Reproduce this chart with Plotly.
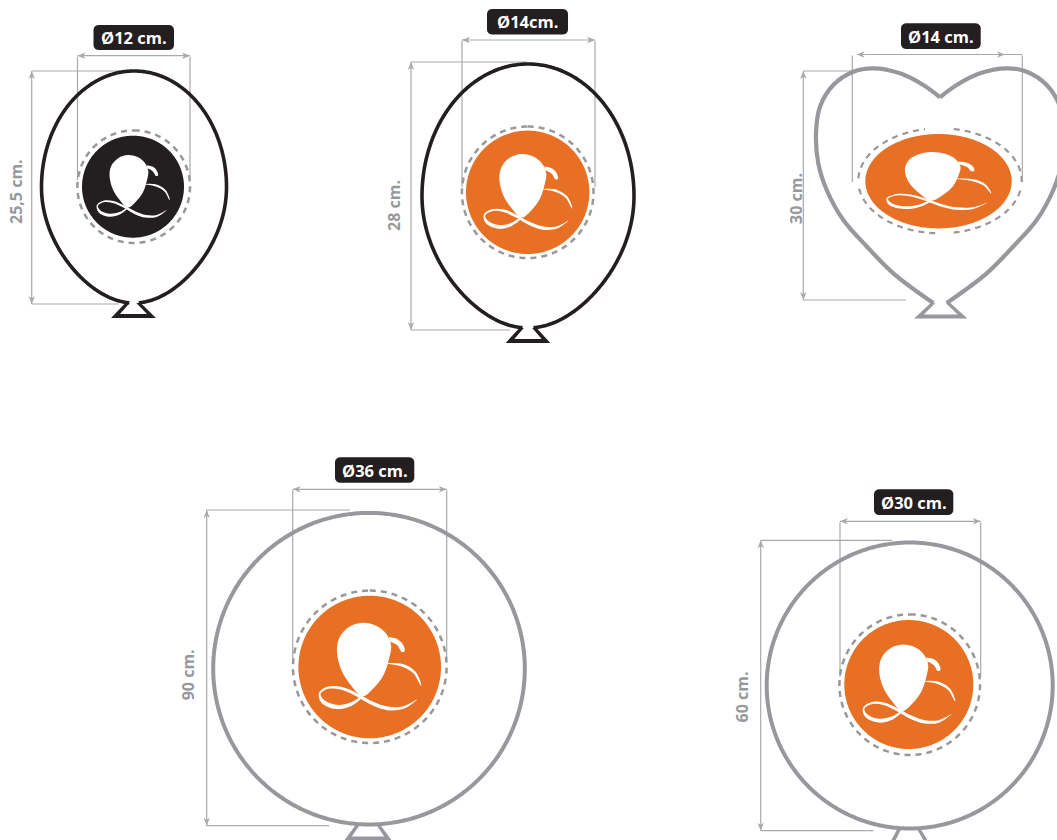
import numpy as np
import plotly.graph_objects as go

# ---- content
diameter_labels = ["Ø12 cm.", "Ø14cm.", "Ø14 cm.", "Ø36 cm.", "Ø30 cm."]
height_labels = ["25,5 cm.", "28 cm.", "30 cm.", "90 cm.", "60 cm."]

# ---- palette
ORANGE = "#e77025"
DARK = "#231f20"
GREY = "#97989b"
DIM = "#a7a9ac"
badge_colors = [DARK, ORANGE, ORANGE, ORANGE, ORANGE]
outline_colors = [DARK, DARK, GREY, GREY, GREY]

# ---- geometry
badge_cx = [133.0, 527.7, 938.5, 369.7, 908.8]
badge_cy = [186.7, 192.3, 181.2, 667.0, 684.5]
badge_rx = [51.0, 61.7, 73.2, 71.3, 64.5]
badge_ry = [51.0, 61.7, 47.2, 71.3, 64.5]
dash_cx = [133.7, 527.7, 940.0, 369.8, 909.7]
dash_cy = [186.7, 192.3, 180.8, 666.8, 684.7]
dash_rx = [56.3, 65.8, 81.7, 76.8, 70.3]
dash_ry = [56.3, 65.8, 52.5, 76.2, 70.3]

pill_x0 = [93.5, 487.0, 901.0, 335.0, 874.0]
pill_x1 = [174.0, 568.0, 980.7, 414.3, 953.3]
pill_y0 = [25.0, 9.0, 23.3, 457.3, 489.3]
pill_y1 = [50.0, 34.5, 49.0, 482.7, 515.0]

width_y = [55.7, 40.0, 54.5, 489.3, 521.3]
width_x0 = [77.5, 462.0, 856.7, 292.7, 840.0]
width_x1 = [190.0, 595.0, 1005.0, 446.7, 980.7]
ext_left = [77.5, 462.0, 852.3, 292.7, 840.0]
ext_right = [190.0, 595.0, 1022.3, 446.7, 980.7]
ext_end = [180.0, 187.0, 182.0, 660.0, 676.7]

height_x = [31.7, 411.0, 803.3, 206.7, 760.7]
height_top = [71.0, 62.0, 71.0, 510.0, 540.3]
height_bot = [304.0, 330.0, 300.0, 825.7, 830.7]
top_end = [133.0, 527.0, 851.7, 350.0, 892.3]
bot_end = [119.0, 510.0, 906.0, 329.0, 873.3]
hlabel_x = [16.0, 394.0, 796.0, 188.3, 741.7]
hlabel_y = [192.0, 206.0, 199.0, 675.0, 696.7]

egg_cx = [134.0, 528.0]
egg_cy = [187.0, 196.0]
egg_rx = [92.5, 106.0]
egg_ry = [116.0, 132.0]
circle_cx = [369.0, 909.7]
circle_cy = [668.7, 685.5]
circle_r = [155.8, 143.0]

knot_top_l = [128.0, 522.0, 933.5, 358.0, 900.0]
knot_top_r = [138.0, 534.0, 947.5, 378.0, 918.0]
knot_bot_l = [115.5, 510.0, 919.0, 348.0, 892.0]
knot_bot_r = [151.5, 546.0, 962.5, 388.0, 927.0]
knot_top_y = [303.0, 328.0, 303.0, 825.0, 828.0]
knot_bot_y = [316.0, 341.0, 316.5, 838.5, 843.0]

# heart: half outline, offsets from the notch axis (px), notch to neck
heart_axis = 940.0
heart_dx = [0, 16.7, 40, 66.7, 86.7, 106.7, 120, 124, 121.7, 113.3, 96.7, 73, 46.7, 6.7]
heart_y = [97.3, 85, 73.3, 68.3, 71.7, 85, 106.7, 133.3, 163.3, 190, 220, 246.7, 273.3, 303]

# logo in units of the badge radius, offsets from the badge centre
logo_bx = [-.10, -.29, -.42, -.46, -.40, -.26, -.10, .06, .20, .28, .30, .23, .09]
logo_by = [-.62, -.56, -.42, -.23, .04, .26, .41, .29, .10, -.15, -.31, -.47, -.58]
hook_x = [.27, .39, .47, .49, .45, .39, .28]
hook_y = [-.42, -.39, -.31, -.22, -.21, -.30, -.36]
ribbon_a_x = [.25, .47, .63, .72]
ribbon_a_y = [-.05, -.02, .08, .26]
ribbon_a_w = [.005, .02, .018, .003]
ribbon_b_x = [.66, .47, .25, .04, -.18, -.39, -.58, -.70, -.66, -.47, -.26, -.10]
ribbon_b_y = [.46, .57, .58, .51, .39, .30, .29, .37, .48, .56, .52, .41]
ribbon_b_w = [.003, .018, .026, .026, .022, .02, .016, .012, .026, .03, .024, .005]


def ring(cx, cy, rx, ry, t0=0.0, t1=2 * np.pi, n=500):
    t = np.linspace(t0, t1, n)
    return cx + rx * np.sin(t), cy - ry * np.cos(t)


def egg(cx, cy, rx, ry):
    t = np.linspace(-np.pi + 0.06, np.pi - 0.06, 500)
    taper = 1 - 0.14 * np.clip(-np.cos(t), 0, 1) ** 2
    return cx + rx * np.sin(t) * taper, cy - ry * np.cos(t)


def ribbon(x, y, w):
    x, y, w = map(np.asarray, (x, y, w))
    dx, dy = np.gradient(x), np.gradient(y)
    ln = np.hypot(dx, dy)
    nx, ny = -dy / ln, dx / ln
    return (np.r_[x + nx * w, (x - nx * w)[::-1]],
            np.r_[y + ny * w, (y - ny * w)[::-1]])


def pill(x0, x1, y0, y1, r=5.0):
    a = np.linspace(0, np.pi / 2, 8)
    xs = np.r_[x1 - r + r * np.sin(a), x1 - r + r * np.cos(a),
               x0 + r - r * np.sin(a), x0 + r - r * np.cos(a)]
    ys = np.r_[y0 + r - r * np.cos(a), y1 - r + r * np.sin(a),
               y1 - r + r * np.cos(a), y0 + r - r * np.sin(a)]
    return xs, ys


fig = go.Figure()


def line(x, y, color, width, dash=None, shape="linear"):
    fig.add_trace(go.Scatter(x=x, y=y, mode="lines", hoverinfo="skip",
                             line=dict(color=color, width=width, dash=dash, shape=shape,
                                       simplify=False)))


def fill(x, y, color, shape="linear"):
    fig.add_trace(go.Scatter(x=x, y=y, mode="lines", fill="toself", fillcolor=color,
                             hoverinfo="skip",
                             line=dict(color=color, width=0, shape=shape, simplify=False)))


def arrow(tx, ty, ux, uy):
    L, H = 8.0, 3.2
    fill([tx, tx + ux * L - uy * H, tx + ux * L * .72, tx + ux * L + uy * H, tx],
         [ty, ty + uy * L + ux * H, ty + uy * L * .72, ty + uy * L - ux * H, ty], DIM)


def knot(i, w=3.8):
    tl, tr, bl, br = knot_top_l[i], knot_top_r[i], knot_bot_l[i], knot_bot_r[i]
    yt, yb = knot_top_y[i], knot_bot_y[i]
    slope = (tl - bl) / (yb - yt)
    h = (w / 2) * np.hypot(tl - bl, yb - yt) / (yb - yt)
    fill([tl - h, bl - slope * w / 2 - h, br + slope * w / 2 + h, tr + h, tl - h],
         [yt, yb + w / 2, yb + w / 2, yt, yt], outline_colors[i])
    fill([tl + h, bl + slope * w / 2 + h, br - slope * w / 2 - h, tr - h, tl + h],
         [yt - 1, yb - w / 2, yb - w / 2, yt - 1, yt - 1], "white")


# dimension lines first, so the outlines sit on top
for i in range(5):
    right_x = ext_right[i] if i == 2 else width_x1[i]
    line([width_x0[i], right_x], [width_y[i], width_y[i]], DIM, 1.2)
    line([ext_left[i], ext_left[i]], [width_y[i] + 1, ext_end[i]], DIM, 1.2)
    line([ext_right[i], ext_right[i]], [width_y[i] + 1, ext_end[i]], DIM, 1.2)
    arrow(width_x0[i], width_y[i], 1, 0)
    arrow(width_x1[i], width_y[i], -1, 0)
    line([height_x[i], height_x[i]], [height_top[i], height_bot[i]], DIM, 1.2)
    line([height_x[i], top_end[i]], [height_top[i], height_top[i]], DIM, 1.2)
    line([height_x[i], bot_end[i]], [height_bot[i], height_bot[i]], DIM, 1.2)
    arrow(height_x[i], height_top[i], 0, 1)
    arrow(height_x[i], height_bot[i], 0, -1)

# knots, then the balloon outlines over them
for i in range(5):
    knot(i)
for j in range(2):
    x, y = egg(egg_cx[j], egg_cy[j], egg_rx[j], egg_ry[j])
    line(x, y, outline_colors[j], 3.6)
for side in (-1, 1):
    line(heart_axis + side * np.array(heart_dx), heart_y, outline_colors[2], 4.2, shape="spline")
for j in range(2):
    x, y = ring(circle_cx[j], circle_cy[j], circle_r[j], circle_r[j])
    line(x, y, outline_colors[3 + j], 4.0)

# badges and logos
for i in range(5):
    cx, cy, rx, ry = badge_cx[i], badge_cy[i], badge_rx[i], badge_ry[i]
    x, y = ring(cx, cy, rx, ry)
    fill(x, y, badge_colors[i])

    if i == 2:
        for t0, t1 in [(0.17, 1.62), (1.76, 3.02), (3.2, 4.62), (4.76, 6.1)]:
            x, y = ring(dash_cx[i], dash_cy[i], dash_rx[i], dash_ry[i], t0, t1, 200)
            line(x, y, GREY, 2.2, dash="6px,5px")
    else:
        x, y = ring(dash_cx[i], dash_cy[i], dash_rx[i], dash_ry[i])
        line(x, y, GREY, 2.5, dash="6px,5px")

    bx = list(logo_bx) + [logo_bx[0]]
    by = list(logo_by) + [logo_by[0]]
    fill(cx + rx * np.array(bx), cy + ry * np.array(by), "white", shape="spline")
    fill(cx + rx * np.array(hook_x), cy + ry * np.array(hook_y), "white", shape="spline")
    for rxs, rys, rws in [(ribbon_a_x, ribbon_a_y, ribbon_a_w),
                          (ribbon_b_x, ribbon_b_y, ribbon_b_w)]:
        px, py = ribbon(rxs, rys, rws)
        fill(cx + rx * px, cy + ry * py, "white", shape="spline")

# pills
for i in range(5):
    x, y = pill(pill_x0[i], pill_x1[i], pill_y0[i], pill_y1[i])
    fill(x, y, DARK)

annotations = []
for i in range(5):
    annotations.append(dict(
        x=(pill_x0[i] + pill_x1[i]) / 2, y=(pill_y0[i] + pill_y1[i]) / 2,
        text="<b>%s</b>" % diameter_labels[i], showarrow=False, xref="x", yref="y",
        font=dict(family="Open Sans", size=16.5, color="white")))
    annotations.append(dict(
        x=hlabel_x[i], y=hlabel_y[i], text="<b>%s</b>" % height_labels[i],
        textangle=-90, showarrow=False, xref="x", yref="y",
        font=dict(family="Open Sans", size=16, color=GREY)))

fig.update_layout(
    width=1057, height=840, margin=dict(l=0, r=0, t=0, b=0),
    paper_bgcolor="white", plot_bgcolor="white", showlegend=False,
    xaxis=dict(range=[0, 1057], visible=False, fixedrange=True),
    yaxis=dict(range=[840, 0], visible=False, fixedrange=True),
    annotations=annotations,
)
fig.write_html("out.html", config=dict(displayModeBar=False),
               post_script="document.body.style.margin='0';document.body.style.overflow='hidden';")
